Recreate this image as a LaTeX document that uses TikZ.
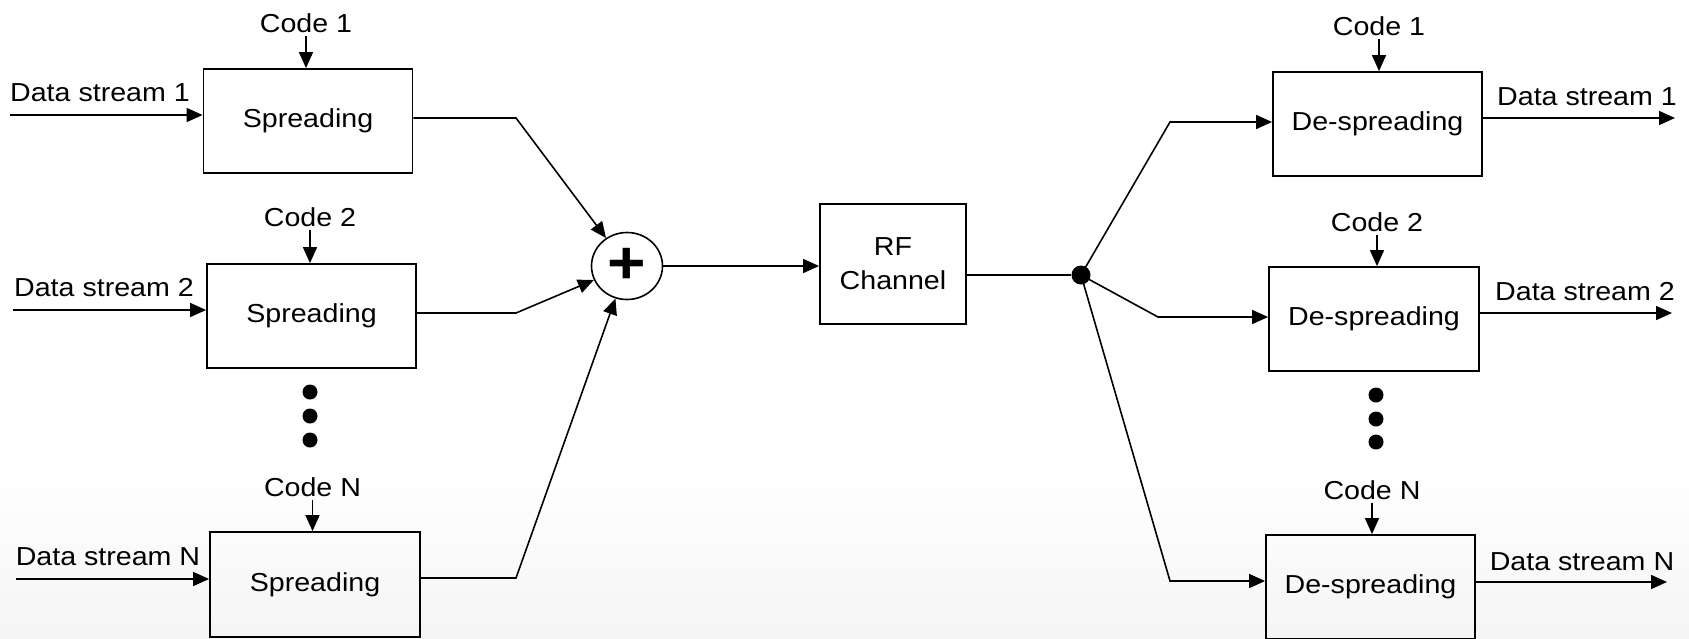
\documentclass[tikz,border=0pt]{standalone}
\usepackage{fontspec}
\setmainfont{Liberation Sans}[FakeStretch=1.1]
\usetikzlibrary{arrows.meta,shapes.geometric}

\begin{document}
\begin{tikzpicture}[x=1pt,y=-1pt,
  every node/.style={font=\fontsize{26}{34.3}\selectfont},
  block/.style={draw, line width=1.8pt, minimum width=209pt, minimum height=104pt, inner sep=0pt},
  wire/.style={line width=1.6pt},
  flow/.style={wire, -{Triangle[length=16pt,width=14pt]}},
  lbl/.style={inner sep=3pt},
  vdot/.style={circle, fill, inner sep=0pt, minimum size=15pt}
]
% canvas with a faint grey fade towards the lower edge
\useasboundingbox (0,0) rectangle (1689,638);
\fill[white] (0,0) rectangle (1689,638);
\shade[top color=white, bottom color=black!4] (0,470) rectangle (1689,638);

% ---------------- transmitter: spreading blocks ----------------
\node[block] (sp1) at (308,121) {Spreading};
\node[block] (sp2) at (311.5,316) {Spreading};
\node[block, minimum width=210pt, minimum height=105pt] (spN) at (315,584.5) {Spreading};

\node[lbl] (cl1) at (306,23) {Code 1};
\node[lbl] (cl2) at (310,217) {Code 2};
\node[lbl] (clN) at (312.5,487) {Code N};
\draw[flow] (cl1.south) -- (cl1.south |- sp1.north);
\draw[flow] (cl2.south) -- (cl2.south |- sp2.north);
\draw[flow] (clN.south) -- (clN.south |- spN.north);

\node (dl1) at (100,93) {Data stream 1};
\node (dl2) at (104,288) {Data stream 2};
\node (dlN) at (108,557) {Data stream N};
\coordinate (in1) at (10,115);
\coordinate (in2) at (13,310);
\coordinate (inN) at (16,579);
\draw[flow] (in1) -- (in1 -| sp1.west);
\draw[flow] (in2) -- (in2 -| sp2.west);
\draw[flow] (inN) -- (inN -| spN.west);

\foreach \yy [count=\i] in {392,416,440} \node[vdot] (ldot\i) at (310,\yy) {};

% ---------------- summing junction and channel ----------------
\node[draw, ellipse, line width=1.6pt, minimum width=71pt, minimum height=67pt, inner sep=0pt]
  (sum) at (627,266) {\fontsize{60}{60}\selectfont\bfseries +};

\coordinate (b1) at (516,118);
\coordinate (b2) at (516,313);
\coordinate (bN) at (516,578);
\draw[flow] (b1 -| sp1.east) -- (b1) -- (sum);
\draw[flow] (b2 -| sp2.east) -- (b2) -- (sum);
\draw[flow] (bN -| spN.east) -- (bN) -- (sum);

\node[block, minimum width=146pt, minimum height=120pt, align=center] (rf) at (893,264) {RF\\Channel};
\draw[flow] (sum) -- (sum -| rf.west);

\node[circle, fill, inner sep=0pt, minimum size=19pt] (split) at (1081,275) {};
\draw[wire] (split -| rf.east) -- (split);

% ---------------- receiver: de-spreading blocks ----------------
\node[block] (ds1) at (1377.5,124) {De-spreading};
\node[block, minimum width=210pt] (ds2) at (1374,319) {De-spreading};
\node[block] (dsN) at (1370.5,587) {De-spreading};

\coordinate (a1) at (1170,122);
\coordinate (a2) at (1158,317);
\coordinate (aN) at (1170,581);
\draw[flow] (split.center) -- (a1) -- (a1 -| ds1.west);
\draw[flow] (split.center) -- (a2) -- (a2 -| ds2.west);
\draw[flow] (split.center) -- (aN) -- (aN -| dsN.west);

\node[lbl] (cr1) at (1379,26) {Code 1};
\node[lbl] (cr2) at (1377,222) {Code 2};
\node[lbl] (crN) at (1372,490) {Code N};
\draw[flow] (cr1.south) -- (cr1.south |- ds1.north);
\draw[flow] (cr2.south) -- (cr2.south |- ds2.north);
\draw[flow] (crN.south) -- (crN.south |- dsN.north);

\coordinate (out1) at (1675,118);
\coordinate (out2) at (1672,313);
\coordinate (outN) at (1667,582);
\draw[flow] (out1 -| ds1.east) -- (out1);
\draw[flow] (out2 -| ds2.east) -- (out2);
\draw[flow] (outN -| dsN.east) -- (outN);
\node (dr1) at (1587,97) {Data stream 1};
\node (dr2) at (1585,292) {Data stream 2};
\node (drN) at (1582,562) {Data stream N};

\foreach \yy [count=\i] in {395,419,442} \node[vdot] (rdot\i) at (1376,\yy) {};
\end{tikzpicture}
\end{document}
